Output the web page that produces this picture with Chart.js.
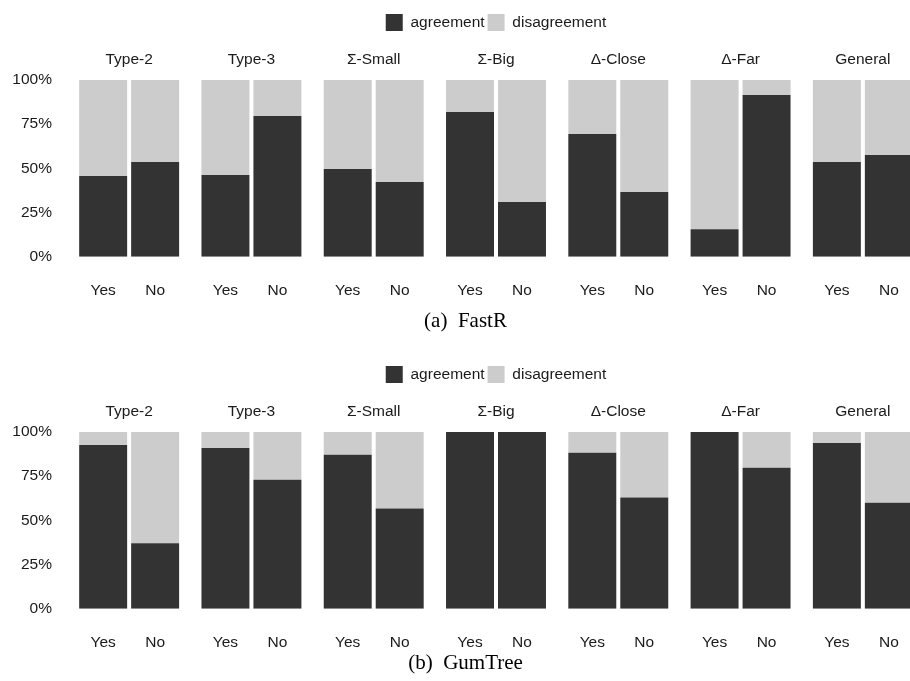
<!DOCTYPE html>
<html>
<head>
<meta charset="utf-8">
<title>FastR / GumTree agreement</title>
<script src="https://cdn.jsdelivr.net/npm/chart.js@4"></script>
<style>
    html, body { margin: 0; padding: 0; background: #fff; overflow: hidden; }
    #wrap { position: relative; width: 910px; height: 681px; overflow: hidden; }
    .panel { position: absolute; left: 0; }
    .caption {
        position: absolute; left: 0; width: 931px; text-align: center; line-height: 24px;
        font-family: 'Liberation Serif', 'Times New Roman', serif; font-size: 21px; color: #000;
    }
</style>
</head>
<body>
<div id="wrap">
    <canvas id="fastr" class="panel" width="924" height="340" style="top:0"></canvas>
    <div class="caption" style="top:308px">(a)&nbsp; FastR</div>
    <canvas id="gumtree" class="panel" width="924" height="340" style="top:352px"></canvas>
    <div class="caption" style="top:650px">(b)&nbsp; GumTree</div>
</div>
<script>
const facets = ['Type-2', 'Type-3', 'Σ-Small', 'Σ-Big', 'Δ-Close', 'Δ-Far', 'General'];
const answers = ['Yes', 'No'];
const yTicks = [0, 25, 50, 75, 100];

// share of "agreement" in percent, one value per facet
const fastrYes = [45.7, 46.2, 49.6, 81.9, 69.5, 15.6, 53.6];
const fastrNo = [53.6, 79.6, 42.3, 30.9, 36.6, 91.5, 57.5];
const gumtreeYes = [92.7, 91.0, 87.1, 100, 88.2, 100, 93.8];
const gumtreeNo = [37.0, 73.0, 56.7, 100, 62.9, 79.7, 60.0];

const dark = '#333333';
const light = '#cccccc';
const catPct = 0.85;
const barPct = 0.923;

Chart.defaults.font.family = "'Liberation Sans', Arial, Helvetica, sans-serif";
Chart.defaults.font.size = 15.5;
Chart.defaults.color = '#1a1a1a';

const drawPanel = (id, yes, no) => {
    const ctx = document.getElementById(id).getContext('2d');
    new Chart(ctx, {
        type: 'bar',
        data: {
            datasets: [
                { label: 'agreement', data: yes, stack: 'Yes', backgroundColor: dark },
                { label: 'disagreement', data: yes.map(v => 100 - v), stack: 'Yes', backgroundColor: light },
                { label: 'agreement', data: no, stack: 'No', backgroundColor: dark },
                { label: 'disagreement', data: no.map(v => 100 - v), stack: 'No', backgroundColor: light }
            ]
        },
        options: {
            responsive: false,
            animation: false,
            layout: { padding: { top: 11, left: 0, right: 0, bottom: 0 } },
            datasets: {
                bar: { categoryPercentage: catPct, barPercentage: barPct, borderWidth: 0 }
            },
            plugins: {
                legend: {
                    position: 'top',
                    fullSize: false,
                    labels: {
                        boxWidth: 17,
                        boxHeight: 17,
                        padding: 3,
                        filter: item => item.datasetIndex < 2
                    }
                },
                tooltip: { enabled: false }
            },
            scales: {
                x: {
                    type: 'category',
                    labels: facets,
                    position: 'top',
                    offset: true,
                    stacked: true,
                    grid: { display: false, drawTicks: false },
                    border: { display: false },
                    ticks: { padding: 11, maxRotation: 0, autoSkip: false },
                    afterFit: s => { s.height = 39; }
                },
                answer: {
                    type: 'linear',
                    position: 'bottom',
                    min: -0.5,
                    max: 6.5,
                    offset: false,
                    bounds: 'data',
                    grid: { display: false, drawTicks: false, offset: false },
                    border: { display: false },
                    ticks: {
                        padding: 25, maxRotation: 0, autoSkip: false,
                        callback: (v, i) => answers[i % 2]
                    },
                    afterBuildTicks: s => {
                        s.ticks = facets.flatMap((f, i) => [{ value: i - catPct / 4 }, { value: i + catPct / 4 }]);
                    },
                    afterFit: s => { s.height = 83.3; }
                },
                y: {
                    stacked: true,
                    min: 0,
                    max: 100,
                    grid: { display: false, drawTicks: false },
                    border: { display: false },
                    ticks: { padding: 16, callback: v => v + '%' },
                    afterBuildTicks: s => { s.ticks = yTicks.map(v => ({ value: v })); },
                    afterFit: s => { s.width = 68; }
                }
            }
        }
    });
};

drawPanel('fastr', fastrYes, fastrNo);
drawPanel('gumtree', gumtreeYes, gumtreeNo);
</script>
</body>
</html>
